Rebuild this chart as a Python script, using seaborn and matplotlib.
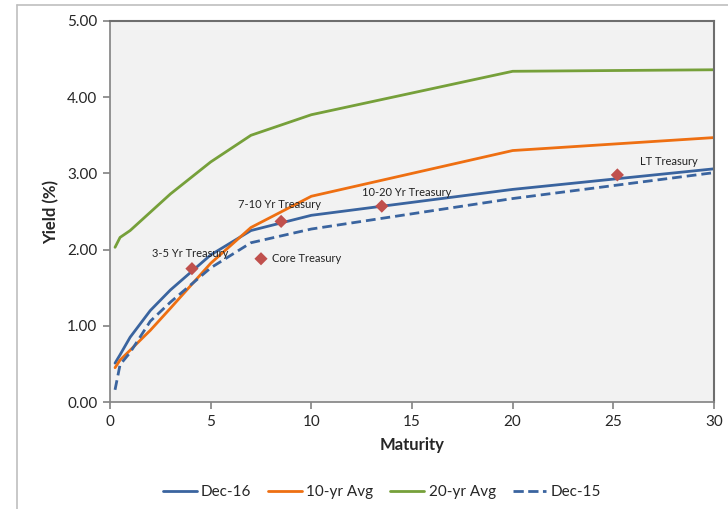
import pandas as pd
import matplotlib.pyplot as plt
import seaborn as sns
from matplotlib.lines import Line2D

# Yield curve data
maturity = [0.25, 0.5, 1, 2, 3, 5, 7, 10, 20, 30]
dec16 = [0.51, 0.62, 0.85, 1.20, 1.47, 1.93, 2.25, 2.45, 2.79, 3.06]
avg10 = [0.45, 0.55, 0.68, 0.94, 1.23, 1.82, 2.29, 2.70, 3.30, 3.47]
avg20 = [2.03, 2.16, 2.25, 2.49, 2.73, 3.15, 3.50, 3.77, 4.34, 4.36]
dec15 = [0.16, 0.49, 0.65, 1.06, 1.31, 1.76, 2.09, 2.27, 2.67, 3.01]

# Index points
idx_names = ["3-5 Yr Treasury", "Core Treasury", "7-10 Yr Treasury", "10-20 Yr Treasury", "LT Treasury"]
idx_x = [4.07, 7.5, 8.5, 13.5, 25.2]
idx_y = [1.75, 1.88, 2.37, 2.57, 2.98]

series = {"Dec-16": dec16, "10-yr Avg": avg10, "20-yr Avg": avg20, "Dec-15": dec15}
df = pd.DataFrame([
    {"Maturity": m, "Yield": v, "Series": name}
    for name, vals in series.items() for m, v in zip(maturity, vals)
])
pts = pd.DataFrame({"name": idx_names, "x": idx_x, "y": idx_y})

sns.set_theme(style="white")
plt.rcParams['font.family'] = ['Lato', 'DejaVu Sans']

fig = plt.figure(figsize=(7.28, 5.09), dpi=100)
ax = fig.add_axes([110 / 728, 1 - 402 / 509, 604 / 728, 381 / 509])
ax.set_facecolor("#f2f2f2")

palette = {"Dec-16": "#3a649f", "10-yr Avg": "#ee6f12", "20-yr Avg": "#76a03a", "Dec-15": "#3a649f"}
dashes = {"Dec-16": "", "10-yr Avg": "", "20-yr Avg": "", "Dec-15": (3.5, 1.8)}
sns.lineplot(data=df, x="Maturity", y="Yield", hue="Series", style="Series",
             palette=palette, dashes=dashes, linewidth=2, ax=ax, legend=False)
sns.scatterplot(data=pts, x="x", y="y", marker="D", s=45, color="#c0504d",
                edgecolor="none", ax=ax, legend=False, zorder=5)

# labels for points
offsets = [(-1, 11, "center"), (8, 0, "left"), (-1, 12, "center"), (18, 10, "center"), (37, 10, "center")]
for (n, x, y), (dx, dy, ha) in zip(zip(idx_names, idx_x, idx_y), offsets):
    ax.annotate(n, (x, y), xytext=(dx, dy), textcoords="offset points",
                ha=ha, va="center", fontsize=8, color="#222222")

ax.set_xlim(0, 30)
ax.set_ylim(0, 5)
ax.set_xticks(range(0, 31, 5))
ax.set_yticks([0, 1, 2, 3, 4, 5])
ax.set_yticklabels([f"{v:.2f}" for v in [0, 1, 2, 3, 4, 5]])
ax.tick_params(axis="both", which="major", labelsize=11, length=5, color="#868686",
               direction="out", left=True, bottom=True, pad=4)
ax.set_xlabel("Maturity", fontsize=12, fontweight="bold", labelpad=6)
ax.set_ylabel("Yield (%)", fontsize=12, fontweight="bold", labelpad=6)
for s in ["left", "bottom"]:
    ax.spines[s].set_color("#868686")
for s in ["top", "right"]:
    ax.spines[s].set_color("#6e6e6e")
    ax.spines[s].set_linewidth(1.5)

handles = [Line2D([], [], color=palette[k], lw=2, linestyle="--" if k == "Dec-15" else "-")
           for k in series]
fig.legend(handles, list(series.keys()), loc="center", bbox_to_anchor=(382 / 728, 1 - 492 / 509),
           ncol=4, frameon=False, fontsize=11, handlelength=2.2, handletextpad=0.3, columnspacing=1.1)

# outer chart frame
fig.add_artist(Line2D([17 / 728, 1], [1 - 5 / 509] * 2, color="#bfbfbf", lw=1.2))
fig.add_artist(Line2D([17 / 728] * 2, [0, 1 - 5 / 509], color="#bfbfbf", lw=1.2))

fig.savefig("out.png", dpi=100)
